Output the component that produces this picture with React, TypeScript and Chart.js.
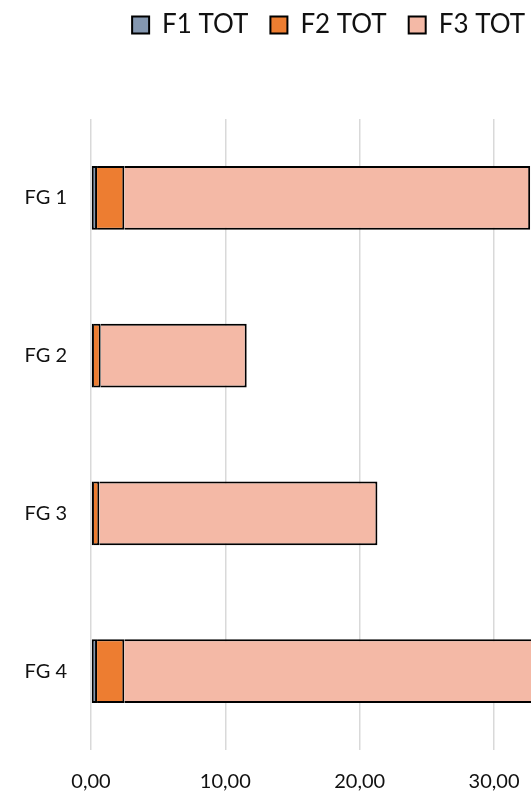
import React, { useEffect, useRef } from 'react';
import { Chart, registerables } from 'chart.js';

Chart.register(...registerables);

const categories = ['FG 1', 'FG 2', 'FG 3', 'FG 4'];
const seriesNames = ['F1 TOT', 'F2 TOT', 'F3 TOT'];
const f1Tot = [0.45, 0.22, 0.22, 0.45];
const f2Tot = [2.03, 0.5, 0.4, 2.03];
const f3Tot = [30.21, 10.87, 20.7, 31.5];
const xTickStep = 10;
const xMax = 33.72;

const colors = ['#8497b0', '#ed7d31', '#f4b9a6'];

const CANVAS_W = 544;
const CANVAS_H = 793;

const layoutPlugin = {
  id: 'layoutTweaks',
  beforeLayout(chart: any) {
    const legend = chart.legend;
    if (legend && !legend.__patched) {
      const orig = legend.fit;
      legend.fit = function () {
        orig.call(this);
        this.height = 119;
      };
      legend.__patched = true;
    }
  },
  afterLayout(chart: any) {
    if (chart.legend) {
      chart.legend.top = -10;
      chart.legend.left += 3;
      chart.legend.right += 3;
    }
  },
};

export default function App() {
  const ref = useRef<HTMLCanvasElement | null>(null);

  useEffect(() => {
    if (!ref.current) return;
    const datasets = [f1Tot, f2Tot, f3Tot].map((data, i) => ({
      label: seriesNames[i],
      data,
      backgroundColor: colors[i],
      borderColor: '#000000',
      borderWidth: 2,
      borderSkipped: i === 0 ? false : 'start',
      categoryPercentage: 1,
      barPercentage: 0.405,
    }));
    const chart = new Chart(ref.current, {
      type: 'bar',
      data: { labels: categories, datasets: datasets as any },
      options: {
        indexAxis: 'y',
        animation: false,
        responsive: false,
        devicePixelRatio: 1,
        layout: { padding: 0 },
        plugins: {
          legend: {
            display: true,
            position: 'top',
            align: 'end',
            labels: {
              boxWidth: 17,
              boxHeight: 17,
              padding: 22,
              color: '#111111',
              font: { family: 'Lato', size: 26 },
            },
          },
          tooltip: { enabled: false },
        },
        scales: {
          x: {
            type: 'linear',
            stacked: true,
            min: 0,
            max: xMax,
            border: { display: false },
            grid: { color: '#d9d9d9', lineWidth: 1.5, drawTicks: false },
            ticks: {
              stepSize: xTickStep,
              includeBounds: false,
              padding: 20,
              color: '#111111',
              font: { family: 'Lato', size: 20 },
              maxRotation: 0,
              callback: (v: any) => Number(v).toFixed(2).replace('.', ','),
            },
            afterFit: (s: any) => {
              s.height = 43;
            },
          },
          y: {
            type: 'category',
            stacked: true,
            border: { display: false },
            grid: { display: false, drawTicks: false },
            ticks: {
              padding: 24,
              color: '#111111',
              font: { family: 'Lato', size: 20 },
            },
            afterFit: (s: any) => {
              s.width = 91;
            },
          },
        },
      },
      plugins: [layoutPlugin],
    });
    return () => chart.destroy();
  }, []);

  return (
    <div
      style={{
        position: 'fixed',
        left: 0,
        top: 0,
        width: 531,
        height: 793,
        overflow: 'hidden',
        background: '#ffffff',
      }}
    >
      <canvas ref={ref} width={CANVAS_W} height={CANVAS_H} style={{ display: 'block' }} />
    </div>
  );
}
